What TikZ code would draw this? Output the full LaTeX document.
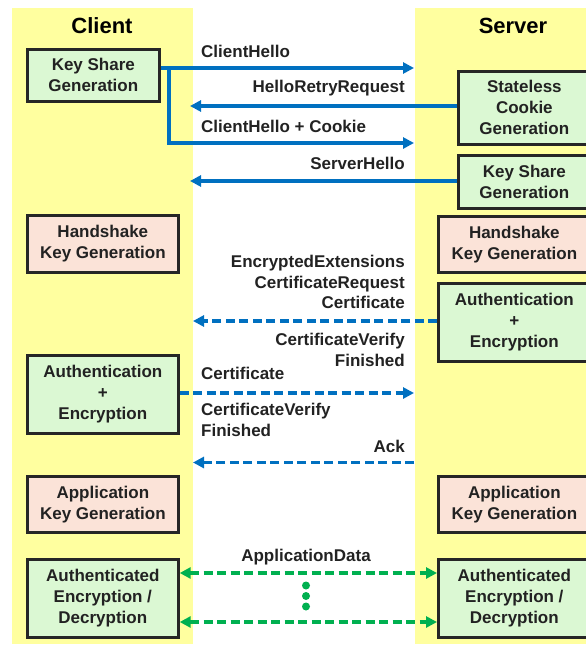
\documentclass[tikz,border=0pt]{standalone}
\usepackage{fontspec}
\setmainfont{Liberation Sans}
\usetikzlibrary{arrows.meta,calc}
\definecolor{lane}{HTML}{FFFF9F}
\definecolor{greenfill}{HTML}{DBF8D3}
\definecolor{peachfill}{HTML}{FBE3D8}
\definecolor{boxline}{HTML}{262626}
\definecolor{textc}{HTML}{222222}
\definecolor{msgblue}{HTML}{0070C0}
\definecolor{msggreen}{HTML}{00B050}
\tikzset{
  box/.style={draw=boxline, line width=2.7pt, inner sep=0pt, align=center,
    anchor=north west, text=textc,
    font=\bfseries\fontsize{17}{21}\selectfont},
  gbox/.style={box, fill=greenfill},
  pbox/.style={box, fill=peachfill},
  lbl/.style={inner sep=0pt, text=textc,
    font=\bfseries\fontsize{17}{20.6}\selectfont},
  head/.style={inner sep=0pt, text=black, font=\bfseries\fontsize{22}{26}\selectfont},
  tip/.style={Triangle[length=11pt,width=11pt]},
  solidmsg/.style={draw=msgblue, line width=3.5pt, -{Triangle[length=11pt,width=11pt]}},
  dashmsg/.style={draw=msgblue, line width=3.5pt, dash pattern=on 9pt off 4.5pt,
    -{Triangle[length=11pt,width=11pt]}},
  datamsg/.style={draw=msggreen, line width=3.5pt, dash pattern=on 9pt off 4.5pt,
    {Triangle[length=11pt,width=11pt]}-{Triangle[length=11pt,width=11pt]}}
}
\begin{document}
\begin{tikzpicture}[x=1pt,y=-1pt]
\useasboundingbox (0,0) rectangle (586,645);
\fill[white] (0,0) rectangle (586,645);

% swim lanes
\fill[lane] (12,8) rectangle (193,644);
\fill[lane] (415,8) rectangle (600,644);
\node[head] (client) at (102,26) {Client};
\node[head] (server) at (513,26) {Server};

% client side
\node[gbox, minimum width=132, minimum height=52] (ksc) at (26,48) {Key Share\\Generation};
\node[pbox, minimum width=151, minimum height=57] (hkc) at (26,214) {Handshake\\Key Generation};
\node[gbox, minimum width=151, minimum height=78] (cae) at (26,354) {Authentication\\+\\Encryption};
\node[pbox, minimum width=151, minimum height=56] (akc) at (26,475) {Application\\Key Generation};
\node[gbox, minimum width=151, minimum height=78] (cad) at (26,558) {Authenticated\\Encryption /\\Decryption};

% server side
\node[gbox, minimum width=132, minimum height=73] (cookie) at (457,70) {Stateless\\Cookie\\Generation};
\node[gbox, minimum width=132, minimum height=53] (kss) at (457,154) {Key Share\\Generation};
\node[pbox, minimum width=152, minimum height=56] (hks) at (437,215) {Handshake\\Key Generation};
\node[gbox, minimum width=152, minimum height=78] (sae) at (437,282) {Authentication\\+\\Encryption};
\node[pbox, minimum width=152, minimum height=56] (aks) at (437,475) {Application\\Key Generation};
\node[gbox, minimum width=152, minimum height=78] (sad) at (437,558) {Authenticated\\Encryption /\\Decryption};

% message end points at the lane edges
\coordinate (chEnd) at (414,68);
\coordinate (fork) at (169,68);
\coordinate (ccEnd) at (414,143);
\coordinate (hrrEnd) at (190,106);
\coordinate (shEnd) at (190,181);
\coordinate (eeEnd) at (193,321);
\coordinate (cfEnd) at (414,393);
\coordinate (ackStart) at (414,462.5);
\coordinate (ackEnd) at (193,462.5);
\coordinate (adA) at (0,573);
\coordinate (adB) at (0,622);

% first flight
\draw[solidmsg] (ksc.east |- chEnd) -- (chEnd);
\draw[solidmsg] (fork) |- (ccEnd);
\draw[solidmsg] (cookie.west |- hrrEnd) -- (hrrEnd);
\draw[solidmsg] (kss.west |- shEnd) -- (shEnd);
\node[lbl, anchor=west] (lch) at (201,51.7) {ClientHello};
\node[lbl, anchor=east] (lhrr) at (405,88.3) {HelloRetryRequest};
\node[lbl, anchor=west] (lcc) at (201,126.7) {ClientHello + Cookie};
\node[lbl, anchor=east] (lsh) at (405,163.3) {ServerHello};

% encrypted handshake
\draw[dashmsg] (sae.west |- eeEnd) -- (eeEnd);
\node[lbl, anchor=east, align=right] (lee) at (405,282.2) {EncryptedExtensions\\CertificateRequest\\Certificate};
\node[lbl, anchor=east, align=right] (lcv) at (405,349.7) {CertificateVerify\\Finished};
\draw[dashmsg] (cae.east |- cfEnd) -- (cfEnd);
\node[lbl, anchor=west] (lcert) at (201,373.3) {Certificate};
\node[lbl, anchor=west, align=left] (lccv) at (201,419.7) {CertificateVerify\\Finished};
\draw[dashmsg] (ackStart) -- (ackEnd);
\node[lbl, anchor=east] (lack) at (405,446) {Ack};

% application data
\draw[datamsg] (cad.east |- adA) -- (sad.west |- adA);
\draw[datamsg] (cad.east |- adB) -- (sad.west |- adB);
\node[lbl] (lad) at (306,557) {ApplicationData};
\fill[msggreen] (306,585.5) circle (4pt) (306,596) circle (4pt) (306,606.5) circle (4pt);
\end{tikzpicture}
\end{document}
